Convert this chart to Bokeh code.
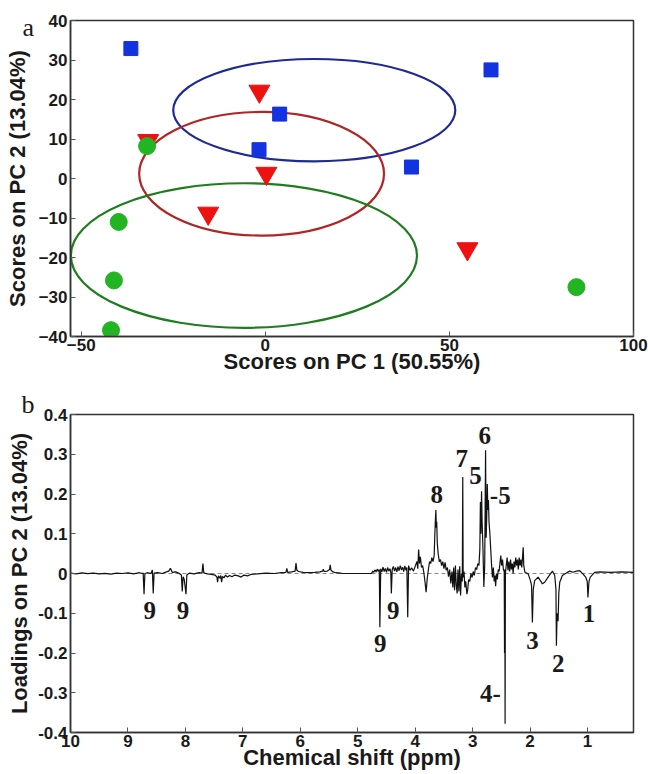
from bokeh.plotting import figure
from bokeh.layouts import column
from bokeh.models import FixedTicker, Span, Range1d, Title
from bokeh.embed import file_html
from bokeh.resources import INLINE
from bokeh.core.properties import value

# ---------------- panel a: PCA scores ----------------
blue_x = [-36.5, 61.3, 3.9, -1.7, 39.7]
blue_y = [32.9, 27.5, 16.3, 7.3, 2.9]
red_x = [-1.6, -31.8, 0.3, -15.5, 54.9]
red_y = [22.1, 9.6, 1.3, -8.8, -17.8]
green_x = [-32.1, -39.8, -41.1, -41.9, 84.5]
green_y = [8.2, -11.0, -25.8, -38.4, -27.5]

ell_x = [13.3, -1.0, -5.8]
ell_y = [17.3, 1.2, -19.5]
ell_w = [76.6, 66.5, 94.0]
ell_h = [25.9, 31.3, 36.6]
ell_color = ["#1f2a96", "#b02525", "#1f7d1f"]

a_xticks = [-50, 0, 50, 100]
a_yticks = [-40, -30, -20, -10, 0, 10, 20, 30, 40]

# ---------------- panel b: PC2 loadings ----------------
shift_ppm = [
    10.0, 9.9, 9.8, 9.7, 9.6, 9.5, 9.4, 9.3, 9.2, 9.1, 9.0, 8.9, 8.8, 8.75,
    8.735, 8.72, 8.705, 8.65, 8.6, 8.575, 8.56, 8.545, 8.48, 8.4, 8.33, 8.29,
    8.26, 8.23, 8.17, 8.12, 8.07, 8.055, 8.04, 8.02, 7.99, 7.975, 7.93, 7.85,
    7.76, 7.71, 7.695, 7.68, 7.62, 7.55, 7.48, 7.45, 7.44, 7.425, 7.40, 7.385,
    7.37, 7.355, 7.33, 7.30, 7.27, 7.23, 7.19, 7.14, 7.08, 7.03, 6.98, 6.92,
    6.85, 6.75, 6.6, 6.45, 6.33, 6.25, 6.235, 6.22, 6.15, 6.09, 6.075, 6.06,
    6.03, 5.95, 5.85, 5.75, 5.66, 5.61, 5.60, 5.585, 5.53, 5.49, 5.48, 5.465,
    5.43, 5.38, 5.30, 5.27, 4.76,
    4.74, 4.72, 4.70, 4.68, 4.66, 4.64, 4.625, 4.615, 4.60, 4.58, 4.56, 4.54,
    4.52, 4.50, 4.48, 4.46, 4.44, 4.425, 4.415, 4.40, 4.38, 4.36, 4.34, 4.32,
    4.30, 4.28, 4.26, 4.24, 4.22, 4.20, 4.18, 4.16, 4.145, 4.13, 4.115, 4.09,
    4.06, 4.03, 4.0, 3.97, 3.955, 3.94, 3.925, 3.91, 3.89, 3.87, 3.85, 3.83,
    3.81, 3.79, 3.77, 3.75, 3.73, 3.71, 3.69, 3.67, 3.66, 3.65, 3.64, 3.632,
    3.625, 3.615, 3.60, 3.58, 3.56, 3.54, 3.52, 3.50, 3.48, 3.46, 3.44, 3.42,
    3.40, 3.38, 3.36, 3.345, 3.33, 3.315, 3.30, 3.285, 3.27, 3.255, 3.24,
    3.225, 3.21, 3.195, 3.18, 3.172, 3.165, 3.15, 3.135, 3.12, 3.10, 3.085,
    3.07, 3.05, 3.03, 3.01, 2.99, 2.97, 2.95, 2.93, 2.91, 2.89, 2.875, 2.865,
    2.855, 2.845, 2.835, 2.82, 2.805, 2.79, 2.775, 2.765, 2.755, 2.745, 2.735,
    2.725, 2.715, 2.70, 2.685, 2.67, 2.655, 2.64, 2.625, 2.61, 2.60, 2.585,
    2.57, 2.555, 2.54, 2.525, 2.51, 2.495, 2.48, 2.465, 2.45, 2.445, 2.44,
    2.435, 2.43, 2.415, 2.40, 2.385, 2.37, 2.355, 2.34, 2.325, 2.31, 2.295,
    2.28, 2.265, 2.25, 2.235, 2.22, 2.205, 2.19, 2.175, 2.16, 2.145, 2.13,
    2.12, 2.11, 2.09,
    2.034, 1.994, 1.975, 1.96, 1.945, 1.92, 1.86, 1.785, 1.745, 1.687, 1.611,
    1.571, 1.55, 1.542, 1.53, 1.513, 1.50, 1.484, 1.438, 1.368, 1.311, 1.253,
    1.195, 1.137, 1.08, 1.033, 1.005, 0.993, 0.975, 0.952, 0.877, 0.79, 0.6,
    0.4, 0.2,
]
loading = [
    0.001, -0.001, 0.0015, -0.0005, 0.001, -0.001, 0.0005, -0.0015, 0.001, 0.0, 0.0015, -0.001, 0.002, 0.0,
    0.001, -0.052, 0.0, 0.002, 0.0, 0.009, -0.05, 0.001, 0.002, 0.0, 0.004, 0.006,
    0.013, 0.003, 0.004, 0.001, -0.004, -0.045, -0.008, -0.015, -0.052, -0.004, 0.001, -0.001,
    0.002, 0.001, 0.025, 0.002, -0.001, -0.002, -0.004, -0.01, -0.022, -0.006, -0.012, -0.005,
    -0.022, -0.007, -0.011, -0.004, -0.009, -0.005, -0.008, -0.004, -0.006, -0.009, -0.004, -0.006,
    -0.002, -0.001, 0.001, 0.0, 0.002, 0.003, 0.013, 0.003, 0.004, 0.006, 0.026, 0.008,
    0.005, 0.003, 0.002, 0.003, 0.004, 0.006, 0.011, 0.005, 0.006, 0.01, 0.022, 0.008,
    0.004, 0.002, 0.001, 0.0, 0.0,
    0.006, 0.003, 0.009, 0.004, 0.011, 0.005, 0.01, -0.135, 0.012, 0.004, 0.016, 0.005,
    0.013, 0.003, 0.015, 0.006, 0.012, 0.004, -0.05, 0.01, 0.018, 0.006, 0.015, 0.004,
    0.017, 0.007, 0.02, 0.009, 0.016, 0.005, 0.019, 0.008, 0.015, -0.11, 0.02, 0.008,
    0.014, 0.006, 0.018, 0.03, 0.012, 0.06, 0.025, 0.042, 0.015, 0.02, 0.003, -0.02,
    -0.047, -0.012, 0.01, 0.03, 0.025, 0.04, 0.03, 0.045, 0.09, 0.13, 0.16, 0.115,
    0.13, 0.075, 0.05, 0.03, 0.035, 0.02, 0.03, 0.012, 0.028, 0.008, 0.015, -0.008,
    0.01, -0.025, 0.005, -0.035, 0.015, -0.042, 0.02, -0.03, -0.05, 0.01, -0.045,
    0.018, -0.055, 0.0, -0.02, 0.243, -0.01, 0.005, -0.035, -0.02, -0.052, -0.04,
    -0.015, -0.02, 0.0, -0.01, 0.005, -0.005, 0.015, 0.01, 0.025, 0.02, 0.06, 0.18,
    0.1, 0.207, 0.13, 0.06, -0.034, 0.02, 0.31, 0.09, 0.14, 0.225, 0.16,
    0.185, 0.13, 0.1, 0.06, 0.02, -0.01, 0.015, -0.02, -0.005, -0.032, 0.0,
    -0.015, 0.01, 0.005, 0.025, 0.045, 0.02, 0.035, 0.01, 0.005, -0.2, 0.01,
    -0.378, 0.0, 0.02, 0.04, 0.008, 0.03, 0.005, 0.035, 0.01, 0.025, 0.0,
    0.03, 0.015, 0.04, 0.02, 0.035, 0.01, 0.04, 0.02, 0.035, 0.015, 0.045,
    0.066, 0.02, 0.003,
    -0.001, -0.018, -0.03, -0.123, -0.04, -0.018, -0.009, -0.026, -0.022, -0.009, 0.006,
    -0.005, -0.04, -0.182, -0.1, -0.12, -0.05, -0.022, -0.005, 0.001, 0.006, 0.003,
    0.006, 0.007, -0.001, -0.009, -0.02, -0.06, -0.02, -0.009, 0.003, 0.004, 0.003,
    0.004, 0.003,
]

peak_text = ["9", "9", "9", "9", "8", "7", "5", "6", "-5", "4-", "3", "2", "1"]
peak_x = [8.62, 8.04, 4.61, 4.38, 3.625, 3.19, 2.95, 2.79, 2.52, 2.69, 1.96, 1.51, 0.976]
peak_y = [-0.093, -0.093, -0.175, -0.093, 0.2, 0.29, 0.247, 0.348, 0.197, -0.303, -0.169, -0.227, -0.101]

b_xticks = [10, 9, 8, 7, 6, 5, 4, 3, 2, 1]
b_yticks = [-0.4, -0.3, -0.2, -0.1, 0.0, 0.1, 0.2, 0.3, 0.4]
b_ylabels = ["-0.4", "-0.3", "-0.2", "-0.1", "0", "0.1", "0.2", "0.3", "0.4"]

SANS = "Liberation Sans"
SERIF = "Liberation Serif"
INK = "#1a1a1a"


def style(p, ylab_standoff):
    p.xgrid.visible = False
    p.ygrid.visible = False
    p.outline_line_color = "#333333"
    p.outline_line_width = 1.5
    p.background_fill_color = "white"
    p.border_fill_color = "white"
    for ax in (p.xaxis[0], p.yaxis[0]):
        ax.axis_line_color = "#333333"
        ax.axis_line_width = 1.5
        ax.major_tick_in = 5
        ax.major_tick_out = 0
        ax.major_tick_line_color = "#555555"
        ax.minor_tick_line_color = None
        ax.major_label_text_font = SANS
        ax.major_label_text_font_style = "bold"
        ax.major_label_text_font_size = "17px"
        ax.major_label_text_color = INK
        ax.axis_label_text_font = SANS
        ax.axis_label_text_font_style = "bold"
        ax.axis_label_text_font_size = "22px"
        ax.axis_label_text_color = INK
    p.xaxis[0].major_label_standoff = 2
    p.xaxis[0].axis_label_standoff = -5
    p.yaxis[0].major_label_standoff = 3
    p.yaxis[0].axis_label_standoff = ylab_standoff


def panel_letter(letter, offset, standoff):
    return Title(text=letter, align="left", offset=offset, standoff=standoff,
                 vertical_align="bottom", text_font=SERIF, text_font_style="normal",
                 text_font_size="26px", text_color=INK)


p1 = figure(width=648, height=382, x_range=Range1d(-52.9, 100), y_range=Range1d(-40, 40),
            output_backend="svg", toolbar_location=None,
            title=panel_letter("a", -48, -43),
            min_border_left=70, min_border_right=15, min_border_top=20, min_border_bottom=46,
            x_axis_label="Scores on PC 1 (50.55%)", y_axis_label="Scores on PC 2 (13.04%)")
style(p1, 6)
p1.xaxis.ticker = FixedTicker(ticks=a_xticks)
p1.yaxis.ticker = FixedTicker(ticks=a_yticks)

p1.ellipse(x=ell_x, y=ell_y, width=ell_w, height=ell_h, fill_color=None,
           line_color=ell_color, line_width=2.2)
p1.scatter(blue_x, blue_y, marker="square", size=14, fill_color="#1433e0", line_color="#1433e0")
p1.scatter(red_x, red_y, marker="inverted_triangle", size=21, fill_color="#ee1111", line_color="#ee1111")
p1.scatter(green_x, green_y, marker="circle", size=17, fill_color="#22b422", line_color="#22b422")

p2 = figure(width=648, height=392, x_range=Range1d(10, 0.2), y_range=Range1d(-0.4, 0.4),
            output_backend="svg", toolbar_location=None,
            title=panel_letter("b", -49, -8),
            min_border_left=70, min_border_right=15, min_border_top=32, min_border_bottom=42,
            x_axis_label="Chemical shift (ppm)", y_axis_label="Loadings on PC 2 (13.04%)")
style(p2, 3)
p2.xaxis.ticker = FixedTicker(ticks=b_xticks)
p2.yaxis.ticker = FixedTicker(ticks=b_yticks)
p2.yaxis.major_label_overrides = dict(zip(b_yticks, b_ylabels))

zero = Span(location=0, dimension="width", line_color="#888888", line_width=1, line_dash="4 3")
zero.level = "underlay"
p2.add_layout(zero)
p2.line(shift_ppm, loading, line_color="#111111", line_width=1.2)
p2.text(x=peak_x, y=peak_y, text=peak_text, text_font=value(SERIF), text_font_style="bold",
        text_font_size="25px", text_color=INK, text_align="center", text_baseline="middle")

layout = column(p1, p2, spacing=0)
open("out.html", "w").write(file_html(layout, INLINE))
